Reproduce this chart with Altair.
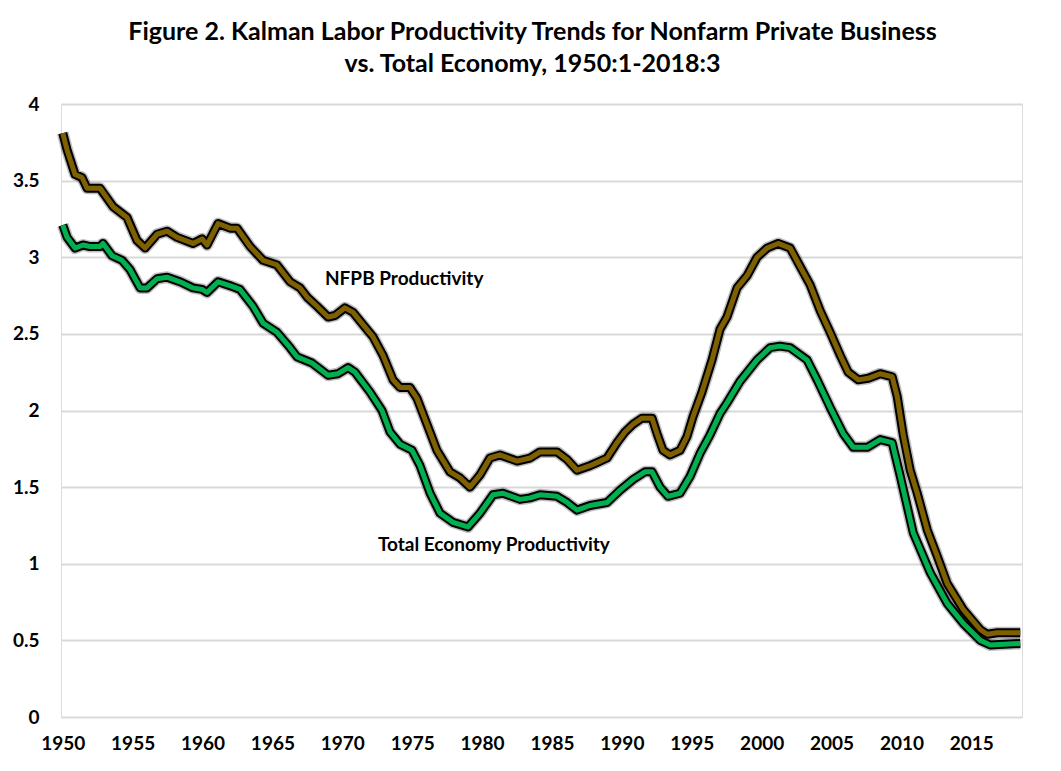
import altair as alt
import pandas as pd

# ---- data (decimal year, percent) ----
nfpb_year = [1950.00, 1950.31, 1950.88, 1951.38, 1951.74, 1952.67, 1953.60, 1954.60, 1955.31, 1955.89,
             1956.75, 1957.46, 1958.18, 1959.32, 1959.97, 1960.32, 1961.11, 1961.97, 1962.47, 1963.40,
             1964.33, 1965.33, 1966.26, 1966.98, 1967.48, 1968.19, 1968.98, 1969.48, 1970.19, 1970.77,
             1971.48, 1972.20, 1972.91, 1973.63, 1974.13, 1974.84, 1975.34, 1976.06, 1976.77, 1977.70,
             1978.42, 1979.13, 1979.85, 1980.56, 1981.28, 1982.50, 1983.43, 1984.14, 1985.36, 1986.08,
             1986.79, 1987.72, 1988.22, 1988.94, 1989.65, 1990.22, 1990.80, 1991.44, 1992.16, 1992.51,
             1992.94, 1993.44, 1994.16, 1994.66, 1995.09, 1995.73, 1996.45, 1997.02, 1997.52, 1998.24,
             1998.96, 1999.67, 2000.39, 2001.18, 2002.04, 2002.75, 2003.47, 2004.19, 2004.90, 2005.62,
             2006.19, 2006.91, 2007.62, 2008.48, 2009.34, 2009.70, 2010.13, 2010.63, 2011.13, 2011.85,
             2012.56, 2013.28, 2014.43, 2015.64, 2016.14, 2016.86, 2018.50]
nfpb_value = [3.81, 3.70, 3.54, 3.52, 3.45, 3.45, 3.33, 3.26, 3.11, 3.06,
              3.15, 3.17, 3.13, 3.09, 3.12, 3.08, 3.22, 3.19, 3.19, 3.07,
              2.98, 2.95, 2.84, 2.80, 2.74, 2.68, 2.61, 2.62, 2.67, 2.64,
              2.56, 2.48, 2.36, 2.20, 2.15, 2.15, 2.08, 1.91, 1.74, 1.60,
              1.56, 1.50, 1.58, 1.69, 1.71, 1.67, 1.69, 1.73, 1.73, 1.68,
              1.61, 1.64, 1.66, 1.69, 1.79, 1.86, 1.91, 1.95, 1.95, 1.85,
              1.74, 1.71, 1.74, 1.83, 1.96, 2.12, 2.33, 2.53, 2.61, 2.80,
              2.88, 3.00, 3.06, 3.09, 3.06, 2.94, 2.82, 2.65, 2.51, 2.36,
              2.25, 2.20, 2.21, 2.24, 2.22, 2.09, 1.84, 1.61, 1.46, 1.22,
              1.05, 0.87, 0.70, 0.57, 0.54, 0.55, 0.55]

total_year = [1950.00, 1950.31, 1950.88, 1951.45, 1951.95, 1952.67, 1952.88, 1953.53, 1954.24, 1954.81,
              1955.53, 1956.03, 1956.75, 1957.46, 1958.39, 1959.32, 1959.97, 1960.32, 1961.11, 1962.11,
              1962.68, 1963.61, 1964.33, 1965.33, 1966.26, 1966.76, 1967.83, 1968.98, 1969.69, 1970.41,
              1970.91, 1971.98, 1972.84, 1973.41, 1974.13, 1974.99, 1975.56, 1976.28, 1976.99, 1977.92,
              1978.99, 1979.85, 1980.78, 1981.49, 1982.71, 1983.43, 1984.14, 1985.36, 1986.08, 1986.79,
              1987.72, 1988.94, 1989.87, 1990.80, 1991.66, 1992.16, 1992.73, 1993.30, 1994.16, 1994.88,
              1995.59, 1996.30, 1997.02, 1997.52, 1998.45, 1999.67, 2000.60, 2001.31, 2002.04, 2003.25,
              2003.97, 2004.90, 2005.83, 2006.55, 2007.55, 2008.48, 2009.34, 2009.92, 2010.85, 2012.07,
              2013.28, 2014.43, 2015.64, 2016.35, 2018.50]
total_value = [3.21, 3.13, 3.06, 3.08, 3.07, 3.07, 3.09, 3.01, 2.98, 2.92,
               2.80, 2.80, 2.86, 2.87, 2.84, 2.80, 2.79, 2.77, 2.84, 2.81,
               2.79, 2.68, 2.57, 2.51, 2.41, 2.35, 2.31, 2.23, 2.24, 2.28,
               2.25, 2.12, 2.00, 1.86, 1.78, 1.74, 1.64, 1.46, 1.33, 1.27,
               1.24, 1.33, 1.45, 1.46, 1.42, 1.43, 1.45, 1.44, 1.40, 1.35,
               1.38, 1.40, 1.48, 1.55, 1.60, 1.60, 1.50, 1.44, 1.46, 1.57,
               1.72, 1.84, 1.98, 2.05, 2.19, 2.33, 2.41, 2.42, 2.41, 2.33,
               2.20, 2.02, 1.85, 1.76, 1.76, 1.81, 1.79, 1.57, 1.20, 0.94,
               0.74, 0.61, 0.50, 0.47, 0.48]

series_names = ["NFPB Productivity", "Total Economy Productivity"]
series_colors = ["#7F6000", "#00B050"]

label_text = ["NFPB Productivity", "Total Economy Productivity"]
label_year = [1968.76, 1972.55]
label_value = [2.86, 1.12]

x_ticks = [1950, 1955, 1960, 1965, 1970, 1975, 1980, 1985, 1990, 1995, 2000, 2005, 2010, 2015]
y_ticks = [0, 0.5, 1, 1.5, 2, 2.5, 3, 3.5, 4]

title_lines = ["Figure 2. Kalman Labor Productivity Trends for Nonfarm Private Business",
               "vs. Total Economy, 1950:1-2018:3"]

# ---- tables ----
df = pd.concat([
    pd.DataFrame({"series": series_names[0], "year": nfpb_year, "value": nfpb_value}),
    pd.DataFrame({"series": series_names[1], "year": total_year, "value": total_value}),
], ignore_index=True)
labels_df = pd.DataFrame({"text": label_text, "year": label_year, "value": label_value})

FONT = "Lato"

x_enc = alt.X("year:Q",
              scale=alt.Scale(domain=[1949.875, 2018.625], nice=False, zero=False),
              axis=alt.Axis(values=x_ticks, format="d", grid=False, ticks=False, domain=False,
                            labelFont=FONT, labelFontWeight="bold", labelFontSize=19,
                            labelColor="black", labelPadding=17, labelFlush=False, title=None))
y_enc = alt.Y("value:Q",
              scale=alt.Scale(domain=[0, 4], nice=False, zero=True),
              axis=alt.Axis(values=y_ticks, format="~g", grid=True, gridColor="#d9d9d9", gridWidth=2,
                            ticks=False, domain=False,
                            labelFont=FONT, labelFontWeight="bold", labelFontSize=19,
                            labelColor="black", labelPadding=22, title=None))

base = alt.Chart(df)
layers = []
for name, col in zip(series_names, series_colors):
    s = base.transform_filter(alt.datum.series == name)
    layers.append(s.mark_line(color="black", strokeWidth=12, opacity=0.25,
                              strokeJoin="round", strokeCap="butt").encode(x=x_enc, y=y_enc))
    layers.append(s.mark_line(color="black", strokeWidth=9,
                              strokeJoin="round", strokeCap="butt").encode(x=x_enc, y=y_enc))
    layers.append(s.mark_line(color=col, strokeWidth=5,
                              strokeJoin="round", strokeCap="butt").encode(x=x_enc, y=y_enc))

text_layer = alt.Chart(labels_df).mark_text(
    align="left", baseline="middle", font=FONT, fontWeight="bold", fontSize=19, color="black"
).encode(x=alt.X("year:Q"), y=alt.Y("value:Q"), text="text:N")

chart = alt.layer(*layers, text_layer).properties(
    width=961, height=613,
    autosize=alt.AutoSizeParams(type="none"),
    padding={"left": 53, "top": 96, "right": 31, "bottom": 46},
    title=alt.TitleParams(text=title_lines, font=FONT, fontSize=25, fontWeight="bold",
                          color="black", anchor="middle", lineHeight=32, offset=18, dx=-9),
).configure_view(stroke=None).configure(background="white")

chart.save("out.html", embed_options={"renderer": "svg", "actions": False})
